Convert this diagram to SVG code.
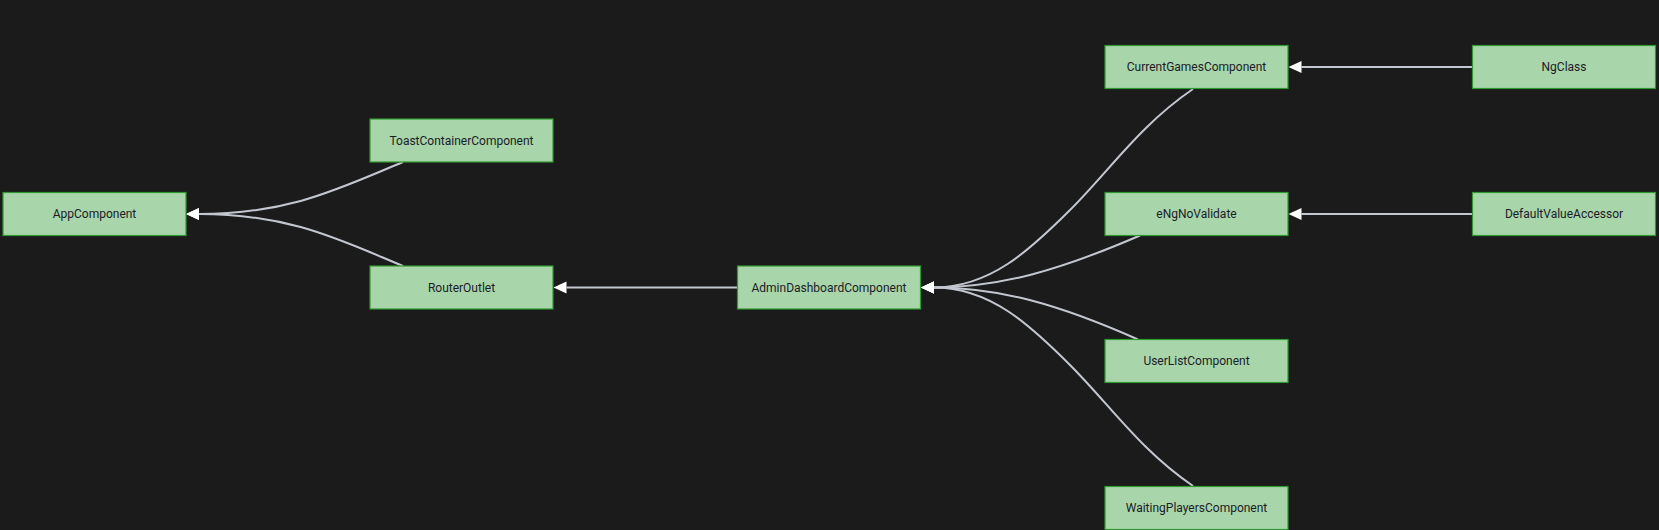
<svg xmlns="http://www.w3.org/2000/svg" width="1659" height="530" viewBox="0 0 1659 530">
<style>
.node rect{fill:#a8d5aa;stroke:#2f9a2f;stroke-width:1.2}
.node text{font-family:Roboto,"Liberation Sans",sans-serif;font-size:12px;fill:#1c1c28;text-anchor:middle;dominant-baseline:central}
.edge{fill:none;stroke:#c3c7d0;stroke-width:2;marker-end:url(#arr)}
</style>
<defs>
<marker id="arr" markerUnits="userSpaceOnUse" markerWidth="14" markerHeight="13" refX="0" refY="6" orient="auto" viewBox="0 0 14 12">
<path d="M0,0 L13,6 L0,12 z" fill="#ffffff"/>
</marker>
</defs>
<rect width="1659" height="530" fill="#1b1b1b"/>
<g id="connectors">
<path class="edge" d="M403,162 C340,188 290,214 199,214"/>
<path class="edge" d="M403,266 C340,240 290,214 199,214"/>
<path class="edge" d="M737.5,287.5 L566.5,287.5"/>
<path class="edge" d="M1193,89 C1140,125 1110,170 1070,210 S990,287.5 934,287.5"/>
<path class="edge" d="M1140,235.5 C1060,270 1000,287.5 934,287.5"/>
<path class="edge" d="M1138,339.5 C1060,305 1000,287.5 934,287.5"/>
<path class="edge" d="M1193,486 C1140,450 1110,405 1070,365 S990,287.5 934,287.5"/>
<path class="edge" d="M1472.5,67 L1301.5,67"/>
<path class="edge" d="M1472.5,214 L1301.5,214"/>
</g>
<g id="AppComponent" class="node"><rect x="3" y="192.5" width="183" height="43"/><text x="94.5" y="214">AppComponent</text></g>
<g id="ToastContainerComponent" class="node"><rect x="370" y="119" width="183" height="43"/><text x="461.5" y="140.5">ToastContainerComponent</text></g>
<g id="RouterOutlet" class="node"><rect x="370" y="266" width="183" height="43"/><text x="461.5" y="287.5">RouterOutlet</text></g>
<g id="AdminDashboardComponent" class="node"><rect x="737.5" y="266" width="183" height="43"/><text x="829" y="287.5">AdminDashboardComponent</text></g>
<g id="CurrentGamesComponent" class="node"><rect x="1105" y="45.5" width="183" height="43"/><text x="1196.5" y="67">CurrentGamesComponent</text></g>
<g id="eNgNoValidate" class="node"><rect x="1105" y="192.5" width="183" height="43"/><text x="1196.5" y="214">eNgNoValidate</text></g>
<g id="UserListComponent" class="node"><rect x="1105" y="339.5" width="183" height="43"/><text x="1196.5" y="361">UserListComponent</text></g>
<g id="WaitingPlayersComponent" class="node"><rect x="1105" y="486.5" width="183" height="43"/><text x="1196.5" y="508">WaitingPlayersComponent</text></g>
<g id="NgClass" class="node"><rect x="1472.5" y="45.5" width="183" height="43"/><text x="1564" y="67">NgClass</text></g>
<g id="DefaultValueAccessor" class="node"><rect x="1472.5" y="192.5" width="183" height="43"/><text x="1564" y="214">DefaultValueAccessor</text></g>
</svg>
